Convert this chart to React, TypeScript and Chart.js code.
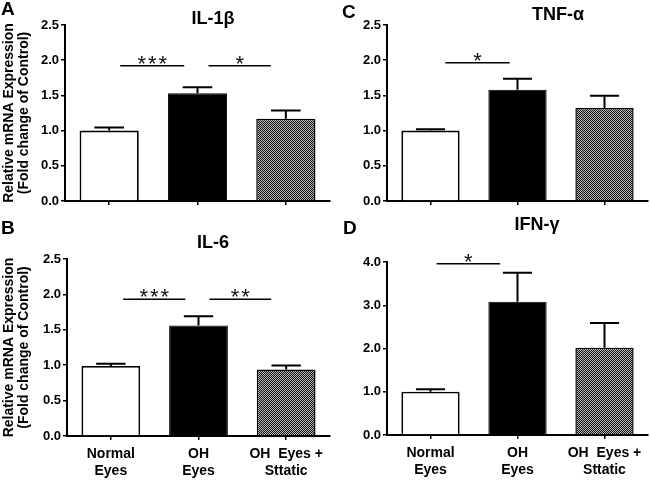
import React, { useEffect, useRef } from "react";
import { Chart, registerables } from "chart.js";
Chart.register(...registerables);

const FONT = "'Liberation Sans', Arial, sans-serif";

// Categories
const groups = [["Normal", "Eyes"], ["OH", "Eyes"], ["OH  Eyes +", "Sttatic"]];

// Tick values
const ticksLow = [0, 0.5, 1.0, 1.5, 2.0, 2.5];
const ticksHigh = [0, 1.0, 2.0, 3.0, 4.0];

// IL-1β
const il1bMeans = [1.0, 1.53, 1.17];
const il1bErrors = [0.045, 0.085, 0.115];
const il1bSig = [
  { from: 0.125, to: 0.85, y: 1.92, label: "***" },
  { from: 1.125, to: 1.83, y: 1.92, label: "*" },
];

// TNF-α
const tnfMeans = [1.0, 1.58, 1.32];
const tnfErrors = [0.02, 0.155, 0.175];
const tnfSig = [{ from: 0.17, to: 0.91, y: 1.965, label: "*" }];

// IL-6
const il6Means = [0.99, 1.56, 0.94];
const il6Errors = [0.03, 0.13, 0.055];
const il6Sig = [
  { from: 0.14, to: 0.85, y: 1.93, label: "***" },
  { from: 1.125, to: 1.83, y: 1.93, label: "**" },
];

// IFN-γ
const ifnMeans = [1.0, 3.08, 2.02];
const ifnErrors = [0.055, 0.67, 0.57];
const ifnSig = [{ from: 0.07, to: 0.8, y: 3.96, label: "*" }];

function makePattern(): CanvasPattern | string {
  const tile = document.createElement("canvas");
  tile.width = 2;
  tile.height = 2;
  const c = tile.getContext("2d");
  if (!c) return "#666";
  c.fillStyle = "#b8b8b8";
  c.fillRect(0, 0, 2, 2);
  c.fillStyle = "#111";
  c.fillRect(0, 0, 1, 1);
  c.fillRect(1, 1, 1, 1);
  return c.createPattern(tile, "repeat") || "#666";
}

const errorBarPlugin = {
  id: "errorBars",
  afterDatasetsDraw(chart: any, _args: any, opts: any) {
    const { ctx } = chart;
    const meta = chart.getDatasetMeta(0);
    const y = chart.scales.y;
    const means = chart.data.datasets[0].data;
    ctx.save();
    ctx.strokeStyle = "#000";
    ctx.lineWidth = 2;
    meta.data.forEach((bar: any, i: number) => {
      const top = y.getPixelForValue(means[i] + opts.errors[i]);
      const half = bar.width / 4;
      ctx.beginPath();
      ctx.moveTo(bar.x, bar.y);
      ctx.lineTo(bar.x, top);
      ctx.moveTo(bar.x - half, top);
      ctx.lineTo(bar.x + half, top);
      ctx.stroke();
    });
    ctx.restore();
  },
};

const sigPlugin = {
  id: "sigMarks",
  afterDatasetsDraw(chart: any, _args: any, opts: any) {
    const { ctx } = chart;
    const x = chart.scales.x;
    const y = chart.scales.y;
    ctx.save();
    opts.marks.forEach((m: any) => {
      const x1 = x.getPixelForValue(m.from);
      const x2 = x.getPixelForValue(m.to);
      const py = y.getPixelForValue(m.y);
      ctx.strokeStyle = "#000";
      ctx.lineWidth = 1.5;
      ctx.beginPath();
      ctx.moveTo(x1, py);
      ctx.lineTo(x2, py);
      ctx.stroke();
      ctx.fillStyle = "#111";
      ctx.font = `22px ${FONT}`;
      try {
        (ctx as any).letterSpacing = "2px";
      } catch (e) {}
      ctx.textAlign = "center";
      ctx.textBaseline = "alphabetic";
      ctx.fillText(m.label, (x1 + x2) / 2 + 1, py + 5);
    });
    ctx.restore();
  },
};

const panelTextPlugin = {
  id: "panelText",
  afterDraw(chart: any, _args: any, opts: any) {
    const { ctx } = chart;
    ctx.save();
    ctx.fillStyle = "#000";
    ctx.textBaseline = "middle";
    ctx.font = `bold 19px ${FONT}`;
    ctx.textAlign = "left";
    ctx.fillText(opts.letter, opts.letterX, opts.letterY);
    ctx.font = `bold 18px ${FONT}`;
    ctx.textAlign = "center";
    ctx.fillText(opts.title, opts.titleX, opts.titleY);
    ctx.restore();
  },
};

type PanelCfg = {
  left: number;
  top: number;
  w: number;
  h: number;
  padTop: number;
  padRight: number;
  yWidth: number;
  xHeight: number;
  means: number[];
  errors: number[];
  sig: any[];
  ticks: number[];
  yMax: number;
  showX: boolean;
  showYTitle: boolean;
  letter: string;
  letterX: number;
  letterY: number;
  title: string;
  titleX: number;
  titleY: number;
};

function Panel({ cfg }: { cfg: PanelCfg }) {
  const ref = useRef<HTMLCanvasElement>(null);
  useEffect(() => {
    const pattern = makePattern();
    const chart = new Chart(ref.current as HTMLCanvasElement, {
      type: "bar",
      data: {
        labels: groups as any,
        datasets: [
          {
            data: cfg.means,
            backgroundColor: ["#ffffff", "#000000", pattern as any],
            borderColor: "#000",
            borderWidth: [1.8, 1, 1.5],
            borderSkipped: "start",
            barPercentage: 0.67,
            categoryPercentage: 1,
          },
        ],
      },
      options: {
        responsive: false,
        animation: false,
        events: [],
        layout: { padding: { left: 0, top: cfg.padTop, right: cfg.padRight, bottom: 0 } },
        plugins: {
          legend: { display: false },
          tooltip: { enabled: false },
          title: { display: false },
          errorBars: { errors: cfg.errors },
          sigMarks: { marks: cfg.sig },
          panelText: {
            letter: cfg.letter,
            letterX: cfg.letterX,
            letterY: cfg.letterY,
            title: cfg.title,
            titleX: cfg.titleX,
            titleY: cfg.titleY,
          },
        } as any,
        scales: {
          x: {
            grid: {
              display: true,
              drawOnChartArea: false,
              offset: false,
              color: "#000",
              tickColor: "#000",
              tickLength: 4,
              lineWidth: 1.5,
            },
            border: { display: true, color: "#000", width: 2 },
            ticks: {
              display: cfg.showX,
              color: "#000",
              font: { family: FONT, size: 14, weight: "bold", lineHeight: 1.2 },
              padding: 6,
              maxRotation: 0,
              minRotation: 0,
              autoSkip: false,
            },
            afterFit: (s: any) => {
              s.height = cfg.xHeight;
            },
          },
          y: {
            min: 0,
            max: cfg.yMax,
            afterBuildTicks: (s: any) => {
              s.ticks = cfg.ticks.map((v) => ({ value: v }));
            },
            grid: {
              display: true,
              drawOnChartArea: false,
              color: "#000",
              tickColor: "#000",
              tickLength: 4,
              lineWidth: 1.5,
            },
            border: { display: true, color: "#000", width: 2 },
            ticks: {
              color: "#000",
              font: { family: FONT, size: 13, weight: "bold" },
              padding: 2,
              callback: (v: any) => Number(v).toFixed(1),
            },
            title: {
              display: cfg.showYTitle,
              text: ["Relative mRNA Expression", "(Fold change of Control)"],
              color: "#000",
              font: { family: FONT, size: 14, weight: "bold", lineHeight: 1.07 },
              padding: { top: 1.5, bottom: 0 },
            },
            afterFit: (s: any) => {
              s.width = cfg.yWidth;
            },
          },
        },
      },
      plugins: [errorBarPlugin, sigPlugin, panelTextPlugin] as any,
    });
    return () => chart.destroy();
  }, []);
  return (
    <canvas
      ref={ref}
      width={cfg.w}
      height={cfg.h}
      style={{ position: "absolute", left: cfg.left, top: cfg.top, width: cfg.w, height: cfg.h, display: "block" }}
    />
  );
}

const panels: PanelCfg[] = [
  {
    left: 0, top: 0, w: 335, h: 215, padTop: 25, padRight: 5, yWidth: 65, xHeight: 14,
    means: il1bMeans, errors: il1bErrors, sig: il1bSig, ticks: ticksLow, yMax: 2.5,
    showX: false, showYTitle: true, letter: "A", letterX: 1, letterY: 10, title: "IL-1β", titleX: 213, titleY: 19,
  },
  {
    left: 320, top: 0, w: 330, h: 215, padTop: 25, padRight: 2, yWidth: 67, xHeight: 14,
    means: tnfMeans, errors: tnfErrors, sig: tnfSig, ticks: ticksLow, yMax: 2.5,
    showX: false, showYTitle: false, letter: "C", letterX: 22, letterY: 13, title: "TNF-α", titleX: 238, titleY: 15,
  },
  {
    left: 0, top: 205, w: 335, h: 275, padTop: 54, padRight: 5, yWidth: 67, xHeight: 44,
    means: il6Means, errors: il6Errors, sig: il6Sig, ticks: ticksLow, yMax: 2.5,
    showX: true, showYTitle: true, letter: "B", letterX: 1, letterY: 24, title: "IL-6", titleX: 213, titleY: 38,
  },
  {
    left: 320, top: 205, w: 330, h: 275, padTop: 57, padRight: 2, yWidth: 67, xHeight: 45,
    means: ifnMeans, errors: ifnErrors, sig: ifnSig, ticks: ticksHigh, yMax: 4,
    showX: true, showYTitle: false, letter: "D", letterX: 23, letterY: 24, title: "IFN-γ", titleX: 217, titleY: 20,
  },
];

export default function App() {
  return (
    <div style={{ position: "absolute", left: 0, top: 0, width: 650, height: 480, background: "#fff", overflow: "hidden" }}>
      {panels.map((p, i) => (
        <Panel key={i} cfg={p} />
      ))}
    </div>
  );
}
